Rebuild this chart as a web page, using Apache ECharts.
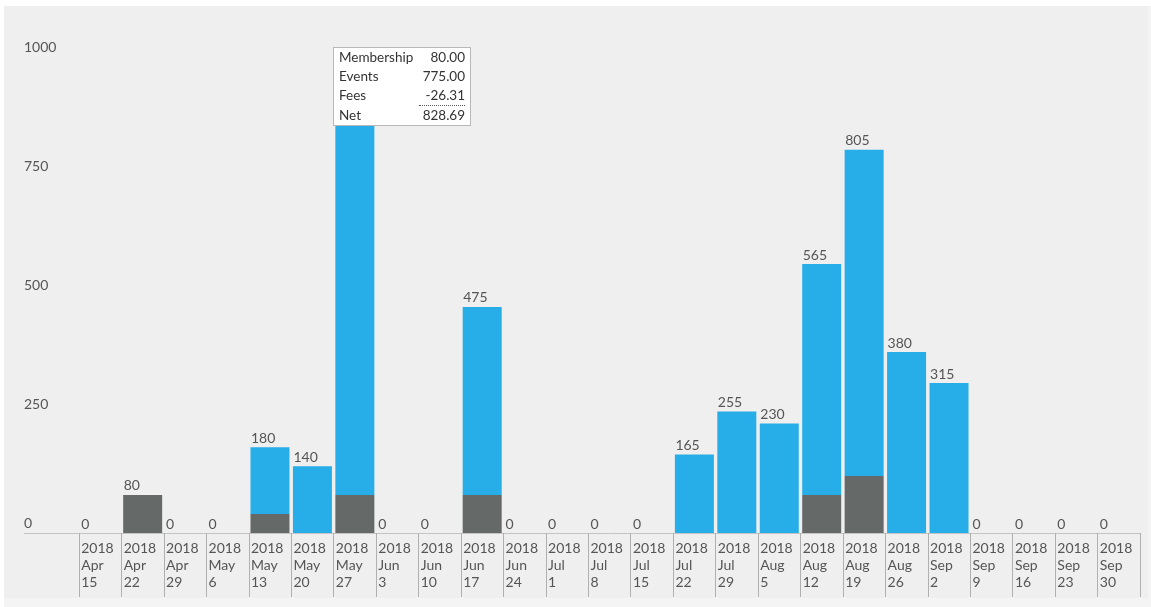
<!DOCTYPE html>
<html>
<head>
<meta charset="utf-8">
<script src="https://cdn.jsdelivr.net/npm/echarts@6/dist/echarts.min.js"></script>
<style>
html,body{margin:0;padding:0;background:#f4f4f4;width:1151px;height:607px;overflow:hidden;}
#bg{position:absolute;left:4px;top:6px;width:1144px;height:592px;background:#efefef;}
#topw{position:absolute;left:0;top:0;width:1151px;height:6px;background:#fff;}
#leftw{position:absolute;left:0;top:0;width:4px;height:607px;background:#fff;}
#chart{position:absolute;left:0;top:0;width:1151px;height:607px;}
</style>
</head>
<body>
<div id="bg"></div><div id="topw"></div><div id="leftw"></div>
<div id="chart"></div>
<script>
const years = ['2018','2018','2018','2018','2018','2018','2018','2018','2018','2018','2018','2018','2018','2018','2018','2018','2018','2018','2018','2018','2018','2018','2018','2018','2018'];
const months = ['Apr','Apr','Apr','May','May','May','May','Jun','Jun','Jun','Jun','Jul','Jul','Jul','Jul','Jul','Aug','Aug','Aug','Aug','Sep','Sep','Sep','Sep','Sep'];
const days = ['15','22','29','6','13','20','27','3','10','17','24','1','8','15','22','29','5','12','19','26','2','9','16','23','30'];
const membership = [0,80,0,0,40,0,80,0,0,80,0,0,0,0,0,0,0,80,120,0,0,0,0,0,0];
const events = [0,0,0,0,140,140,775,0,0,395,0,0,0,0,165,255,230,485,685,380,315,0,0,0,0];
const fees = [null,null,null,null,null,null,-26.31,null,null,null,null,null,null,null,null,null,null,null,null,null,null,null,null,null,null];
const yTicks = [0,250,500,750,1000];

const categories = days.map((d,i)=>years[i]+'\n'+months[i]+'\n'+d);
const FONT = 'Lato, "Open Sans", sans-serif';

const chart = echarts.init(document.getElementById('chart'));
function fmt(v){return v.toFixed(2);}
chart.setOption({
  animation:false,
  backgroundColor:'transparent',
  grid:{left:79,right:11,top:57,bottom:74,containLabel:false},
  tooltip:{
    trigger:'item',
    triggerOn:'none',
    alwaysShowContent:true,
    transitionDuration:0,
    position:[333,47],
    padding:[0,5,0,5],
    borderColor:'#b8b8b8',
    borderWidth:1,
    borderRadius:0,
    backgroundColor:'#fff',
    extraCssText:'box-shadow:none;',
    textStyle:{fontFamily:FONT,fontSize:13,color:'#333'},
    formatter:function(p){
      const i=p.dataIndex;
      const m=membership[i], e=events[i], f=fees[i]==null?0:fees[i];
      const net=m+e+f;
      const td='padding:0;line-height:19px;height:19px;';
      return '<table style="border-collapse:collapse;font-family:Lato,sans-serif;font-size:13.5px;color:#333;width:126px">'+
        '<tr><td style="'+td+'">Membership</td><td style="'+td+'text-align:right">'+fmt(m)+'</td></tr>'+
        '<tr><td style="'+td+'">Events</td><td style="'+td+'text-align:right">'+fmt(e)+'</td></tr>'+
        '<tr><td style="'+td+'">Fees</td><td style="'+td+'text-align:right">'+fmt(f)+'</td></tr>'+
        '<tr><td style="'+td+'">Net</td><td style="'+td+'text-align:right;border-top:1px dotted #555">'+fmt(net)+'</td></tr>'+
        '</table>';
    }
  },
  xAxis:{
    type:'category',
    data:categories,
    boundaryGap:true,
    axisLine:{show:true,lineStyle:{color:'#c4c4c4',width:1}},
    axisTick:{show:true,length:64,lineStyle:{color:'#b0b0b0'}},
    axisLabel:{
      interval:0,
      margin:7,
      formatter:function(v){const s=v.split('\n');return '{a|'+s[0]+'}\n{a|'+s[1]+'}\n{a|'+s[2]+'}';},
      rich:{a:{width:38,align:'left',fontFamily:FONT,fontSize:14,color:'#555',lineHeight:17}}
    }
  },
  yAxis:{
    type:'value',
    min:0,max:1000,interval:250,
    axisLine:{show:false},
    axisTick:{show:false},
    splitLine:{show:false},
    axisLabel:{
      margin:55,align:'left',verticalAlign:'bottom',padding:[0,0,3,0],
      fontFamily:FONT,fontSize:14,color:'#555',
      formatter:function(v){return yTicks.indexOf(v)>=0?String(v):'';}
    }
  },
  graphic:[{type:'line',shape:{x1:24,y1:533.5,x2:79,y2:533.5},style:{stroke:'#c4c4c4',lineWidth:1},silent:true}],
  series:[
    {name:'Membership',type:'bar',stack:'t',data:membership,barWidth:39,itemStyle:{color:'#656a69'}},
    {name:'Events',type:'bar',stack:'t',data:events,barWidth:39,itemStyle:{color:'#27ade8'},
     label:{show:true,position:'top',align:'left',offset:[-19,0],distance:2,
       fontFamily:FONT,fontSize:14,color:'#555',
       formatter:function(p){return String(membership[p.dataIndex]+events[p.dataIndex]);}}}
  ]
});
chart.dispatchAction({type:'showTip',seriesIndex:1,dataIndex:6});
</script>
</body>
</html>
